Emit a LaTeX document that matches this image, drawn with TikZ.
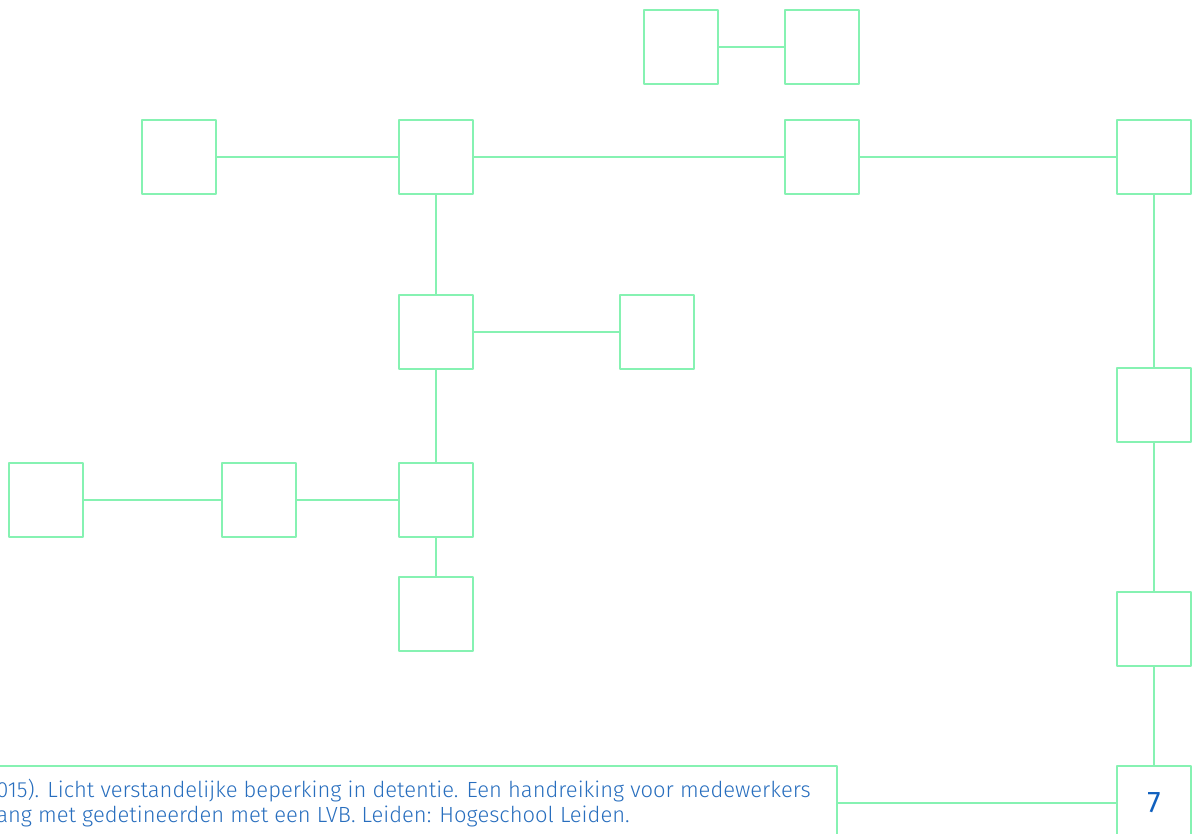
\documentclass[tikz,border=0pt]{standalone}
\usepackage{fontspec}
\setmainfont{Fira Sans}[UprightFont=* Light]
\newfontfamily\numfont{Fira Sans}
\usetikzlibrary{positioning}
\definecolor{mint}{RGB}{134,242,178}
\definecolor{refblue}{RGB}{40,110,190}
\definecolor{numblue}{RGB}{16,96,190}
\tikzset{
  every picture/.style={line join=round, line cap=round},
  box/.style={draw=mint, line width=0.75pt, minimum size=1.48cm, inner sep=0pt},
  link/.style={draw=mint, line width=0.75pt},
}
\begin{document}
\begin{tikzpicture}[x=0.02cm,y=-0.02cm]
\useasboundingbox (0,0) rectangle (1203,834);
% top pair
\node[box] (t1) at (681,47) {};
\node[box] (t2) at (822,47) {};
% second row
\node[box] (r1) at (179,157) {};
\node[box] (r2) at (436,157) {};
\node[box] (r3) at (822,157) {};
\node[box] (r4) at (1154,157) {};
% middle column
\node[box] (m1) at (436,332) {};
\node[box] (m2) at (657,332) {};
\node[box] (m3) at (436,500) {};
\node[box] (m4) at (436,614) {};
% left row
\node[box] (l1) at (46,500) {};
\node[box] (l2) at (259,500) {};
% right column
\node[box] (c1) at (1154,405) {};
\node[box] (c2) at (1154,629) {};
\node[box, font=\numfont\fontsize{17}{17}\selectfont, text=numblue] (pg) at (1154,803) {7};
% reference box
\begin{scope}
\clip (0,0) rectangle (1203,834);
\draw[link] (-20,766) coordinate (refnw) rectangle (837,860) coordinate (refse);
\coordinate (refe) at (837,803);
\node[anchor=west, text=refblue, font=\fontsize{12.5}{14.2}\selectfont, align=left, inner sep=0pt] (ref) at (-4,803)
  {015). Licht verstandelijke beperking in detentie. Een handreiking voor medewerkers\\
   ang met gedetineerden met een LVB. Leiden: Hogeschool Leiden.};
\end{scope}
% connectors
\draw[link] (t1) -- (t2);
\draw[link] (r1) -- (r2);
\draw[link] (r2) -- (r3);
\draw[link] (r3) -- (r4);
\draw[link] (r2) -- (m1);
\draw[link] (m1) -- (m2);
\draw[link] (m1) -- (m3);
\draw[link] (m3) -- (m4);
\draw[link] (l1) -- (l2);
\draw[link] (l2) -- (m3);
\draw[link] (r4) -- (c1);
\draw[link] (c1) -- (c2);
\draw[link] (c2) -- (pg);
\draw[link] (refe) -- (pg);
\end{tikzpicture}
\end{document}
